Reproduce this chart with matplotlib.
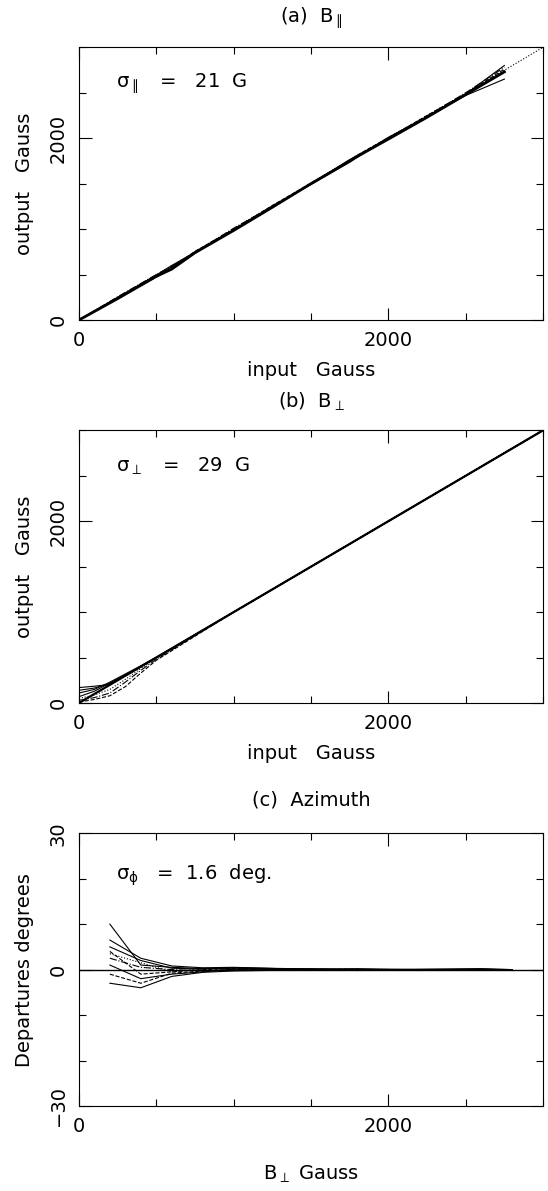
import matplotlib.pyplot as plt
import numpy as np

# ---- data ----
# (a) B parallel: input vs output for several inversions
xa = [0, 250, 500, 600, 750, 1000, 1250, 1500, 1750, 1800, 2000, 2250, 2500, 2750]
ya1 = [0, 235, 480, 560, 740, 985, 1240, 1500, 1745, 1800, 1990, 2230, 2480, 2730]
ya2 = [0, 245, 470, 575, 755, 1000, 1260, 1505, 1760, 1815, 2005, 2250, 2490, 2760]
ya3 = [0, 255, 500, 590, 745, 1010, 1250, 1495, 1750, 1790, 2000, 2245, 2500, 2780]
ya4 = [0, 240, 490, 585, 750, 990, 1245, 1500, 1765, 1810, 1995, 2240, 2485, 2800]
ya5 = [0, 250, 495, 600, 745, 995, 1255, 1490, 1740, 1800, 2010, 2235, 2470, 2650]
xa_long = [0, 500, 1000, 1500, 2000, 2500, 3000]
ya_long = [0, 495, 1000, 1500, 2000, 2495, 3000]

# (b) B perpendicular
xb = [0, 100, 200, 300, 400, 500, 1000, 1500, 2000, 2500, 3000]
yb1 = [170, 185, 205, 300, 400, 500, 1000, 1500, 2000, 2500, 3000]
yb2 = [140, 165, 215, 310, 405, 500, 1000, 1500, 2000, 2500, 3000]
yb3 = [110, 150, 230, 320, 410, 505, 1000, 1500, 2000, 2500, 3000]
yb4 = [70, 130, 220, 305, 400, 500, 1000, 1500, 2000, 2500, 3000]
yb5 = [30, 60, 110, 230, 360, 480, 1000, 1500, 2000, 2500, 3000]
yb6 = [10, 40, 80, 180, 330, 470, 1000, 1500, 2000, 2500, 3000]
yb7 = [0, 100, 200, 300, 400, 500, 1000, 1500, 2000, 2500, 3000]
yb8 = [50, 90, 150, 260, 380, 495, 1000, 1500, 2000, 2500, 3000]

# (c) azimuth departures
xc = [200, 400, 600, 800, 1000, 1400, 1800, 2200, 2600, 2800]
yc1 = [10.0, 1.0, 0.5, 0.2, 0.3, 0.2, 0.0, -0.1, 0.1, 0.0]
yc2 = [6.5, 2.5, 0.8, 0.4, 0.5, 0.1, 0.2, 0.0, 0.0, -0.1]
yc3 = [5.0, 2.0, 0.3, 0.1, 0.4, 0.2, -0.1, 0.1, 0.2, 0.0]
yc4 = [4.0, -1.0, -0.5, 0.0, 0.2, 0.0, 0.1, -0.2, 0.0, 0.0]
yc5 = [2.5, 0.5, 0.0, -0.3, 0.0, 0.1, 0.0, 0.0, -0.1, 0.0]
yc6 = [1.0, -2.0, -1.0, -0.5, 0.1, 0.0, -0.2, 0.0, 0.1, -0.1]
yc7 = [-1.0, -3.0, -0.8, -0.3, -0.2, 0.0, 0.0, -0.1, 0.0, 0.0]
yc8 = [-3.0, -4.0, -1.5, -0.6, -0.3, -0.1, 0.0, 0.0, 0.0, -0.2]
yc9 = [3.5, 1.5, -0.5, 0.3, 0.0, -0.2, 0.1, 0.0, 0.0, 0.0]

plt.rcParams.update({'font.family': 'DejaVu Sans', 'font.size': 14,
                     'mathtext.default': 'regular'})

fig = plt.figure(figsize=(5.48, 11.91), dpi=100)

left, width, height = 0.144, 0.847, 0.229
ax_a = fig.add_axes([left, 0.7313, width, height])
ax_b = fig.add_axes([left, 0.4097, width, height])
ax_c = fig.add_axes([left, 0.0714, width, height])

lw = 0.8


def style_axes(ax, xmaj, ymaj, xmin, ymin):
    ax.set_xticks(xmaj)
    ax.set_yticks(ymaj)
    ax.set_xticks(xmin, minor=True)
    ax.set_yticks(ymin, minor=True)
    ax.tick_params(which='both', direction='in', top=True, right=True, width=0.8)
    ax.tick_params(which='major', length=9, pad=8)
    ax.tick_params(which='minor', length=5)
    for lab in ax.get_yticklabels():
        lab.set_rotation(90)
        lab.set_va('center')
    for s in ax.spines.values():
        s.set_linewidth(0.8)


# (a)
for y, ls in [(ya1, '-'), (ya2, '--'), (ya3, '-.'), (ya4, '-'), (ya5, '-')]:
    ax_a.plot(xa, y, color='black', lw=lw, ls=ls)
ax_a.plot(xa_long, ya_long, color='black', lw=lw, ls=':')
ax_a.plot(xa, ya1, color='black', lw=2.0)
ax_a.set_xlim(0, 3000)
ax_a.set_ylim(0, 3000)
style_axes(ax_a, [0, 2000], [0, 2000], np.arange(0, 3001, 500), np.arange(0, 3001, 500))
ax_a.set_xlabel('input   Gauss', labelpad=8)
ax_a.set_ylabel('output   Gauss', labelpad=11)
ax_a.set_title(r'(a)  B$_{\parallel}$', fontsize=14, pad=18)
ax_a.text(0.08, 0.85, r'$\sigma_{\parallel}$   =   21  G', transform=ax_a.transAxes, fontsize=14)

# (b)
for y, ls in [(yb1, '-'), (yb2, '-'), (yb3, '-'), (yb4, '-'), (yb5, '-.'), (yb6, '--'), (yb8, ':')]:
    ax_b.plot(xb, y, color='black', lw=lw, ls=ls)
ax_b.plot(xb, yb7, color='black', lw=1.6)
ax_b.set_xlim(0, 3000)
ax_b.set_ylim(0, 3000)
style_axes(ax_b, [0, 2000], [0, 2000], np.arange(0, 3001, 500), np.arange(0, 3001, 500))
ax_b.set_xlabel('input   Gauss', labelpad=8)
ax_b.set_ylabel('output   Gauss', labelpad=11)
ax_b.set_title(r'(b)  B$_{\perp}$', fontsize=14, pad=16)
ax_b.text(0.08, 0.85, r'$\sigma_{\perp}$   =   29  G', transform=ax_b.transAxes, fontsize=14)

# (c)
ax_c.axhline(0, color='black', lw=1.0)
for y, ls in [(yc1, '-'), (yc2, '-'), (yc3, '-'), (yc4, '--'), (yc5, '-.'),
              (yc6, '-'), (yc7, '--'), (yc8, '-'), (yc9, ':')]:
    ax_c.plot(xc, y, color='black', lw=lw, ls=ls)
ax_c.set_xlim(0, 3000)
ax_c.set_ylim(-30, 30)
style_axes(ax_c, [0, 2000], [-30, 0, 30], np.arange(0, 3001, 500), np.arange(-30, 31, 10))
ax_c.set_xlabel(r'B$_{\perp}$ Gauss', labelpad=20)
ax_c.set_ylabel('Departures degrees', labelpad=11)
ax_c.set_title('(c)  Azimuth', fontsize=14, pad=20)
ax_c.text(0.08, 0.83, r'$\sigma_{\phi}$   =  1.6  deg.', transform=ax_c.transAxes, fontsize=14)

fig.savefig('out.png', dpi=100)
